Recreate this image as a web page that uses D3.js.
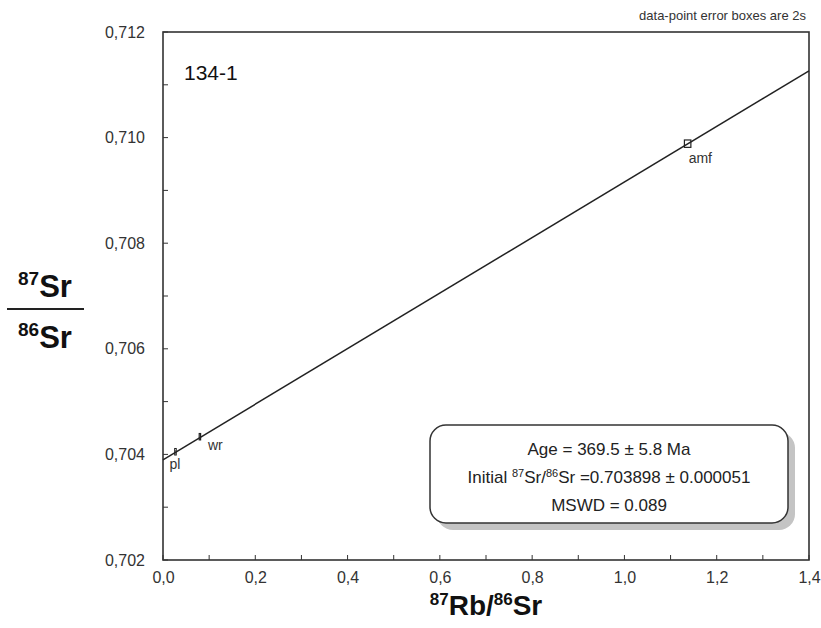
<!DOCTYPE html>
<html>
<head>
<meta charset="utf-8">
<script src="https://cdn.jsdelivr.net/npm/d3@7"></script>
<style>
  body { margin: 0; background: #fff; }
  svg { font-family: "Liberation Sans", Arial, sans-serif; }
</style>
</head>
<body>
<div id="chart"></div>
<script>
// isochron data
var sampleNames = ["pl", "wr", "amf"];
var rbSr = [0.027, 0.080, 1.137];          // 87Rb/86Sr
var srSr = [0.704050, 0.704335, 0.709885]; // 87Sr/86Sr
var errX = [0.0015, 0.0015, 0.007];        // half width of error box
var errY = [0.00006, 0.00006, 0.00007];    // half height
var labelDx = [-6, 8, 1];
var labelDy = [17, 13, 19];
var xTicks = [0, 0.2, 0.4, 0.6, 0.8, 1.0, 1.2, 1.4];
var yTicks = [0.702, 0.704, 0.706, 0.708, 0.710, 0.712];
var initialRatio = 0.703898;
var slope = 0.005262; // from age 369.5 Ma
var infoLines = ["Age = 369.5 ± 5.8 Ma", "Initial 87Sr/86Sr =0.703898 ± 0.000051", "MSWD = 0.089"];

var W = 821, H = 628;
var margin = {top: 32, right: 12, bottom: 68, left: 163};
var width = W - margin.left - margin.right;
var height = H - margin.top - margin.bottom;

var svg = d3.select("#chart").append("svg")
  .attr("width", W).attr("height", H);
var g = svg.append("g")
  .attr("transform", "translate(" + margin.left + "," + margin.top + ")");

var x = d3.scaleLinear().domain([0, 1.4]).range([0, width]);
var y = d3.scaleLinear().domain([0.702, 0.712]).range([height, 0]);
var comma = function(d) { return d3.format(".1f")(d).replace(".", ","); };
var commaY = function(d) { return d3.format(".3f")(d).replace(".", ","); };

// minor ticks (inward)
var xMinor = d3.range(0, 15).map(function(i) { return i / 10; });
var yMinor = d3.range(0, 11).map(function(i) { return 0.702 + i * 0.001; });

g.selectAll(".xm").data(xMinor).enter().append("line")
  .attr("x1", function(d) { return x(d); }).attr("x2", function(d) { return x(d); })
  .attr("y1", height).attr("y2", height - 5)
  .attr("stroke", "#333").attr("stroke-width", 1);
g.selectAll(".ym").data(yMinor).enter().append("line")
  .attr("y1", function(d) { return y(d); }).attr("y2", function(d) { return y(d); })
  .attr("x1", 0).attr("x2", 5)
  .attr("stroke", "#333").attr("stroke-width", 1);

// axis tick labels
var xAxis = g.append("g").attr("transform", "translate(0," + height + ")")
  .call(d3.axisBottom(x).tickValues(xTicks).tickFormat(comma).tickSize(0).tickPadding(12));
xAxis.select(".domain").remove();
xAxis.selectAll("text").attr("font-size", 16).attr("fill", "#333")
  .attr("font-family", "Liberation Sans, Arial, sans-serif");

var yAxis = g.append("g")
  .call(d3.axisLeft(y).tickValues(yTicks).tickFormat(commaY).tickSize(0).tickPadding(18));
yAxis.select(".domain").remove();
yAxis.selectAll("text").attr("font-size", 16).attr("fill", "#333")
  .attr("font-family", "Liberation Sans, Arial, sans-serif");

// frame
g.append("rect").attr("width", width).attr("height", height)
  .attr("fill", "none").attr("stroke", "#333").attr("stroke-width", 1.6);

// isochron line
g.append("line")
  .attr("x1", x(0)).attr("y1", y(initialRatio))
  .attr("x2", x(1.4)).attr("y2", y(initialRatio + slope * 1.4))
  .attr("stroke", "#222").attr("stroke-width", 1.5);

// error boxes
var pts = g.selectAll(".pt").data(sampleNames).enter().append("g");
pts.append("rect")
  .attr("x", function(d, i) { return x(rbSr[i] - errX[i]); })
  .attr("y", function(d, i) { return y(srSr[i] + errY[i]); })
  .attr("width", function(d, i) { return x(rbSr[i] + errX[i]) - x(rbSr[i] - errX[i]); })
  .attr("height", function(d, i) { return y(srSr[i] - errY[i]) - y(srSr[i] + errY[i]); })
  .attr("fill", "none").attr("stroke", "#222").attr("stroke-width", 1.2);
pts.append("text")
  .attr("x", function(d, i) { return x(rbSr[i]) + labelDx[i]; })
  .attr("y", function(d, i) { return y(srSr[i]) + labelDy[i]; })
  .attr("font-size", 14).attr("fill", "#333")
  .text(function(d) { return d; });

// sample name
g.append("text").attr("x", 21).attr("y", 48)
  .attr("font-size", 21).attr("fill", "#111").text("134-1");

// note top right
svg.append("text").attr("x", 806).attr("y", 20).attr("text-anchor", "end")
  .attr("font-size", 13).attr("fill", "#333").text("data-point error boxes are 2s");

// info box
var bx = 430, by = 425, bw = 358, bh = 98;
svg.append("rect").attr("x", bx + 7).attr("y", by + 7).attr("width", bw).attr("height", bh)
  .attr("rx", 16).attr("fill", "#c4c4c4");
svg.append("rect").attr("x", bx).attr("y", by).attr("width", bw).attr("height", bh)
  .attr("rx", 16).attr("fill", "#fff").attr("stroke", "#333").attr("stroke-width", 1.5);
var cx = bx + bw / 2;
svg.append("text").attr("x", cx).attr("y", 455).attr("text-anchor", "middle")
  .attr("font-size", 17).attr("fill", "#222").text(infoLines[0]);
var t2 = svg.append("text").attr("x", cx).attr("y", 483).attr("text-anchor", "middle")
  .attr("font-size", 17).attr("fill", "#222");
t2.append("tspan").text("Initial ");
t2.append("tspan").attr("font-size", 11).attr("dy", -6).text("87");
t2.append("tspan").attr("dy", 6).text("Sr/");
t2.append("tspan").attr("font-size", 11).attr("dy", -6).text("86");
t2.append("tspan").attr("dy", 6).text("Sr =0.703898 ± 0.000051");
svg.append("text").attr("x", cx).attr("y", 511).attr("text-anchor", "middle")
  .attr("font-size", 17).attr("fill", "#222").text(infoLines[2]);

// x title
var xt = svg.append("text").attr("x", 486).attr("y", 615).attr("text-anchor", "middle")
  .attr("font-size", 28).attr("font-weight", "bold").attr("fill", "#111");
xt.append("tspan").attr("font-size", 17).attr("dy", -10).text("87");
xt.append("tspan").attr("dy", 10).text("Rb/");
xt.append("tspan").attr("font-size", 17).attr("dy", -10).text("86");
xt.append("tspan").attr("dy", 10).text("Sr");

// y title (fraction)
function ratioLabel(yPos, iso) {
  var t = svg.append("text").attr("x", 45).attr("y", yPos).attr("text-anchor", "middle")
    .attr("font-size", 31).attr("font-weight", "bold").attr("fill", "#111");
  t.append("tspan").attr("font-size", 19).attr("dy", -12).text(iso);
  t.append("tspan").attr("dy", 12).text("Sr");
}
ratioLabel(297, "87");
svg.append("line").attr("x1", 7).attr("x2", 84).attr("y1", 309).attr("y2", 309)
  .attr("stroke", "#222").attr("stroke-width", 2);
ratioLabel(348, "86");
</script>
</body>
</html>
